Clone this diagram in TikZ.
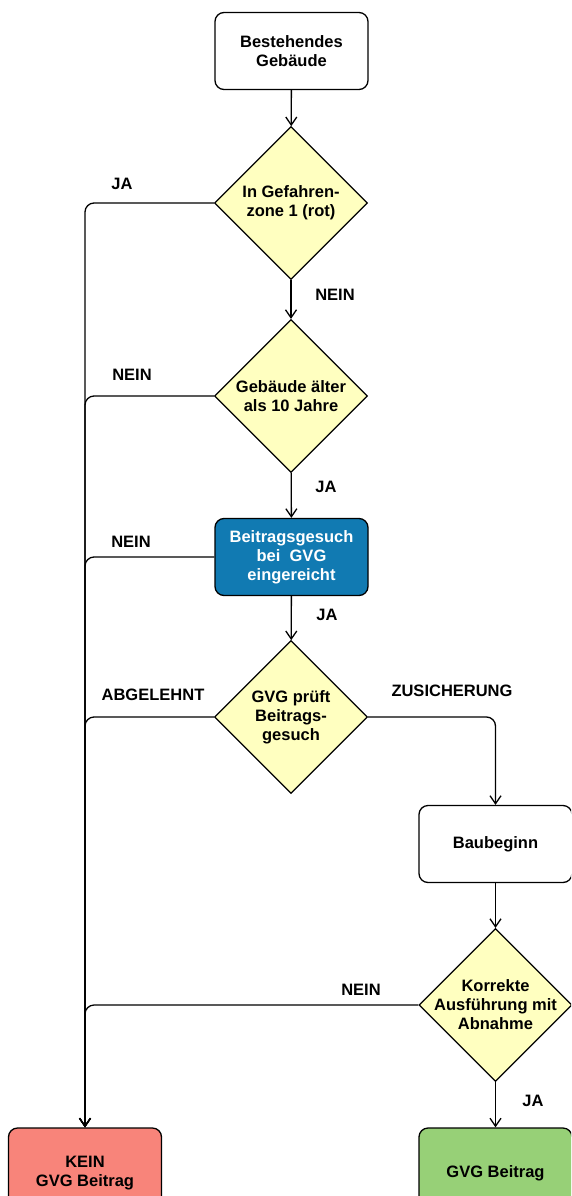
\documentclass[tikz,border=0pt]{standalone}
\usepackage{fontspec}
\setmainfont{Liberation Sans}
\usetikzlibrary{arrows.meta,shapes.geometric}
\definecolor{dyel}{RGB}{255,255,192}
\definecolor{dblue}{RGB}{17,122,178}
\definecolor{dred}{RGB}{248,132,122}
\definecolor{dgreen}{RGB}{151,208,119}
\begin{document}
\begin{tikzpicture}[x=1pt,y=-1pt,
  fnt/.style={font=\bfseries\fontsize{16.5}{19}\selectfont},
  box/.style={draw, line width=1.3pt, rounded corners=9pt, minimum width=153pt, minimum height=77pt, inner sep=0pt, align=center, fnt},
  dia/.style={draw, diamond, aspect=1, minimum width=153pt, minimum height=153pt, fill=dyel, inner sep=0pt, line width=1.2pt},
  txt/.style={align=center, fnt},
  lbl/.style={fnt, inner sep=0pt},
  conn/.style={draw, line width=1.3pt, -{Straight Barb[length=8pt,width=11pt]}, rounded corners=9pt}]
\useasboundingbox (0,0) rectangle (571,1196);
\clip (0,0) rectangle (571,1196);
\node[box] (start) at (291.5,51) {Bestehendes\\Gebäude};
\node[dia] (d1) at (291,203) {};
\node[txt] at (d1) {In Gefahren-\\zone 1 (rot)};
\node[dia] (d2) at (291,396) {};
\node[txt] at (d2) {Gebäude älter\\als 10 Jahre};
\node[box, fill=dblue, text=white] (sub) at (291.5,557) {Beitragsgesuch\\bei\ \ GVG\\eingereicht};
\node[dia] (d3) at (291,717) {};
\node[txt] at (d3) {GVG prüft\\Beitrags-\\gesuch};
\node[box] (bau) at (495.5,844) {Baubeginn};
\node[dia] (d4) at (495.5,1005) {};
\node[txt] at (d4) {Korrekte\\Ausführung mit\\Abnahme};
\node[box, fill=dred, minimum height=90pt] (kein) at (85,1173) {KEIN\\GVG Beitrag};
\node[box, fill=dgreen, minimum height=90pt] (gvg) at (495.5,1173) {GVG Beitrag};
\draw[conn] (start) -- (d1);
\draw[conn] (d1) -- (d2);
\draw[conn] (d2) -- (sub);
\draw[conn] (sub) -- (d3);
\draw[conn] (d3.east) -| (bau.north);
\draw[conn] (bau) -- (d4);
\draw[conn] (d4) -- (gvg);
\draw[conn] (d1.west) -| (kein.north);
\draw[conn] (d2.west) -| (kein.north);
\draw[conn] (sub.west) -| (kein.north);
\draw[conn] (d3.west) -| (kein.north);
\draw[conn] (d4.west) -| (kein.north);
\node[lbl] (l1) at (122,184) {JA};
\node[lbl] (l2) at (335,295) {NEIN};
\node[lbl] (l3) at (132,375) {NEIN};
\node[lbl] (l4) at (326,487) {JA};
\node[lbl] (l5) at (131,542) {NEIN};
\node[lbl] (l6) at (327,615) {JA};
\node[lbl] (l7) at (153,695) {ABGELEHNT};
\node[lbl] (l8) at (452,691) {ZUSICHERUNG};
\node[lbl] (l9) at (361,990) {NEIN};
\node[lbl] (l10) at (533,1101) {JA};
\end{tikzpicture}
\end{document}
